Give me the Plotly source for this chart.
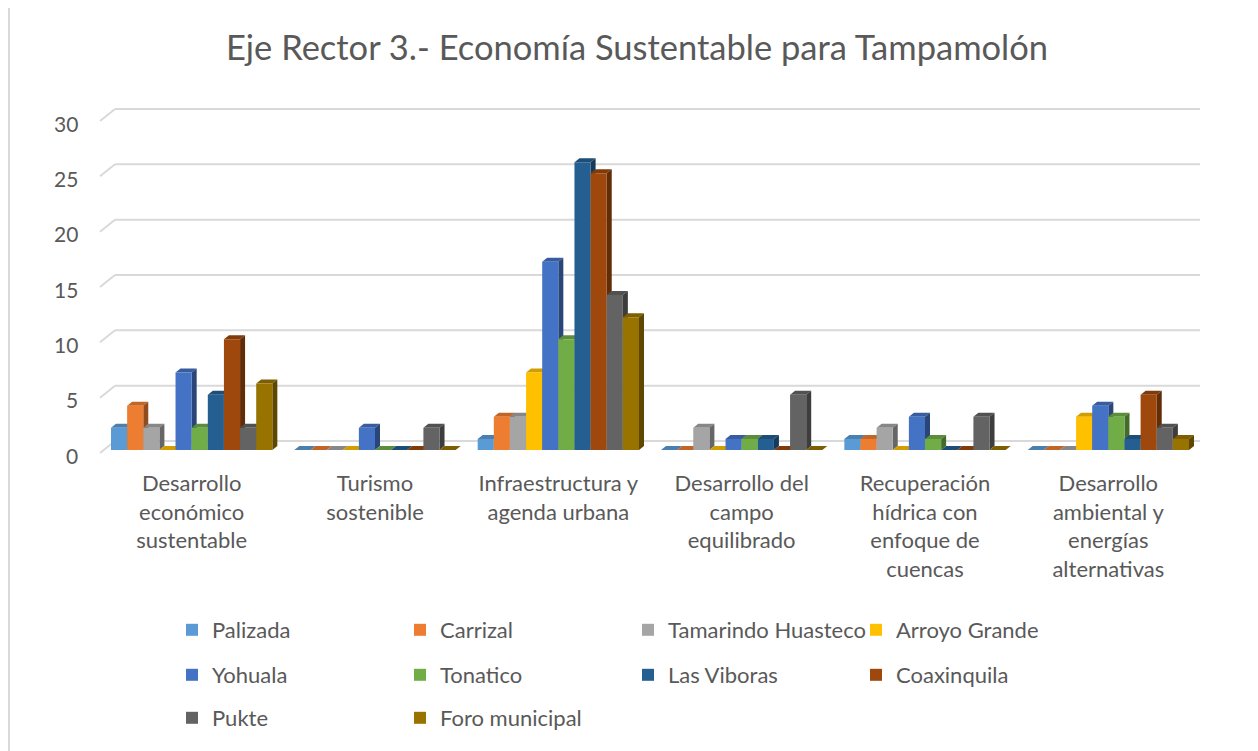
import plotly.graph_objects as go

categories = ["Desarrollo<br>económico<br>sustentable", "Turismo<br>sostenible",
              "Infraestructura y<br>agenda urbana", "Desarrollo del<br>campo<br>equilibrado",
              "Recuperación<br>hídrica con<br>enfoque de<br>cuencas",
              "Desarrollo<br>ambiental y<br>energías<br>alternativas"]
y_ticks = [0, 5, 10, 15, 20, 25, 30]

palizada = [2, 0, 1, 0, 1, 0]
carrizal = [4, 0, 3, 0, 1, 0]
tamarindo = [2, 0, 3, 2, 2, 0]
arroyo = [0, 0, 7, 0, 0, 3]
yohuala = [7, 2, 17, 1, 3, 4]
tonatico = [2, 0, 10, 1, 1, 3]
viboras = [5, 0, 26, 1, 0, 1]
coaxinquila = [10, 0, 25, 0, 0, 5]
pukte = [2, 2, 14, 5, 3, 2]
foro = [6, 0, 12, 0, 0, 1]

series = [
    ("Palizada", palizada, "#5B9BD5", "legend"),
    ("Carrizal", carrizal, "#ED7D31", "legend"),
    ("Tamarindo Huasteco", tamarindo, "#A5A5A5", "legend"),
    ("Arroyo Grande", arroyo, "#FFC000", "legend"),
    ("Yohuala", yohuala, "#4472C4", "legend2"),
    ("Tonatico", tonatico, "#70AD47", "legend2"),
    ("Las Viboras", viboras, "#255E91", "legend2"),
    ("Coaxinquila", coaxinquila, "#9E480E", "legend2"),
    ("Pukte", pukte, "#636363", "legend3"),
    ("Foro municipal", foro, "#997300", "legend3"),
]

L, T, W, H = 92, 110, 1100, 332
YMAX = 30
BARGAP = 0.12
n_cat = len(categories)
n_ser = len(series)
px_x = W / n_cat          # px per category unit
px_y = H / YMAX           # px per value unit
DX = 5 / px_x             # bar depth (x, data units)
DY = 4 / px_y             # bar depth (y, data units)
bw = (1 - BARGAP) / n_ser


def shade(hexcol, f):
    h = hexcol.lstrip("#")
    r, g, b = (int(h[i:i + 2], 16) for i in (0, 2, 4))
    return "#%02x%02x%02x" % (int(r * f), int(g * f), int(b * f))


def xp(x):   # data x -> paper
    return (x + 0.5) / n_cat


def yp(v):   # data y -> paper
    return v / YMAX


fig = go.Figure()
shapes = []
annotations = []

# back-wall gridlines with a short diagonal on the left (3-D floor/wall look)
WALL_DX = 15 / px_x
WALL_DY = 9 / px_y
FRONT_DY = 3 / px_y
x_left = -0.5
for v in y_ticks:
    shapes.append(dict(type="line", xref="paper", yref="paper",
                       x0=xp(x_left + WALL_DX), x1=xp(n_cat - 0.5),
                       y0=yp(v + WALL_DY), y1=yp(v + WALL_DY), layer="below",
                       line=dict(color="#D9D9D9", width=2)))
    shapes.append(dict(type="line", xref="paper", yref="paper",
                       x0=xp(x_left), x1=xp(x_left + WALL_DX),
                       y0=yp(v - FRONT_DY), y1=yp(v + WALL_DY), layer="below",
                       line=dict(color="#D9D9D9", width=2)))
    annotations.append(dict(xref="paper", yref="y", x=0, y=v, text=str(v), showarrow=False,
                            xanchor="right", yanchor="middle", xshift=-20, yshift=-5,
                            font=dict(size=21, color="#595959")))

for j, (name, vals, col, lg) in enumerate(series):
    fig.add_trace(go.Bar(x=list(range(n_cat)), y=vals, name=name, marker_color=col,
                         marker_line_width=0, legend=lg))
    side = shade(col, 0.62)
    top = shade(col, 0.82)
    for i, v in enumerate(vals):
        x0 = i - (1 - BARGAP) / 2 + j * bw
        x1 = x0 + bw
        # top face
        shapes.append(dict(type="path", xref="x", yref="y", layer="below",
                           path=f"M{x0},{v} L{x1},{v} L{x1 + DX},{v + DY} L{x0 + DX},{v + DY} Z",
                           fillcolor=top, line=dict(width=0)))
        # right side face
        if v > 0:
            shapes.append(dict(type="path", xref="x", yref="y", layer="below",
                               path=f"M{x1},0 L{x1 + DX},{DY} L{x1 + DX},{v + DY} L{x1},{v} Z",
                               fillcolor=side, line=dict(width=0)))

# outer frame (left edge)
shapes.append(dict(type="line", xref="paper", yref="paper", x0=-L / W + 1 / W, x1=-L / W + 1 / W,
                   y0=(T + H - 751) / H, y1=(T + H) / H,
                   line=dict(color="#D9D9D9", width=2)))


def py(page_y):
    return (T + H + 8 - page_y) / H


leg_common = dict(orientation="h", x=(172 - 100) / W, xanchor="left", yanchor="middle",
                  entrywidth=183, entrywidthmode="pixels",
                  font=dict(size=22, color="#595959"), itemsizing="constant",
                  bgcolor="rgba(0,0,0,0)")

fig.update_layout(
    width=1258, height=751,
    paper_bgcolor="white", plot_bgcolor="white",
    font=dict(family="Lato, Open Sans, sans-serif", color="#595959", size=22),
    title=dict(text="Eje Rector 3.- Economía Sustentable para Tampamolón",
               x=0.5, xanchor="center", y=0.947, yanchor="middle",
               font=dict(size=34.5, color="#595959")),
    margin=dict(l=L, r=1258 - L - W, t=T, b=751 - T - H),
    barmode="group", bargap=BARGAP, bargroupgap=0,
    xaxis=dict(range=[-0.5, n_cat - 0.5], tickvals=list(range(n_cat)), ticktext=categories,
               showgrid=False, showline=False, zeroline=False, ticks="",
               tickfont=dict(size=22), ticklabelstandoff=18),
    yaxis=dict(range=[0, YMAX], tickvals=y_ticks, showgrid=False, zeroline=False,
               showticklabels=False, ticks=""),
    legend=dict(leg_common, y=py(630)),
    legend2=dict(leg_common, y=py(675)),
    legend3=dict(leg_common, y=py(718)),
    shapes=shapes,
    annotations=annotations,
)

fig.write_html("out.html")
